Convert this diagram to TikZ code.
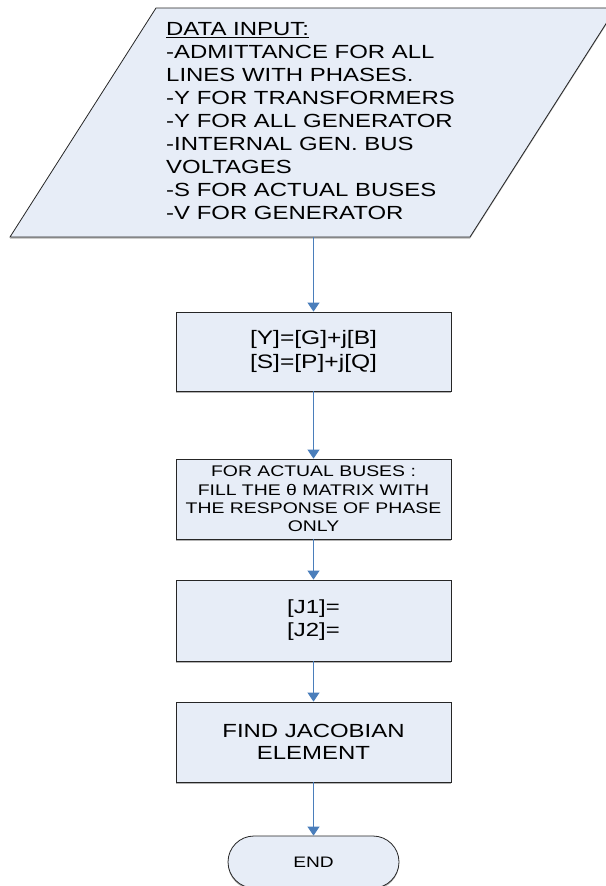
\documentclass[tikz,border=0pt]{standalone}
\usepackage{fontspec}
\usepackage{xcolor}
\usetikzlibrary{positioning, arrows.meta, shadows}
\newfontfamily\flowfont[FakeStretch=1.26]{Liberation Sans}
\definecolor{boxfill}{RGB}{231,237,247}
\definecolor{linkblue}{RGB}{74,126,187}

\begin{document}
\begin{tikzpicture}[x=1pt, y=-1pt,
  every node/.style={font=\flowfont, text=black},
  procbox/.style={draw=black!85, fill=boxfill, line width=0.8pt, minimum width=275pt, inner sep=0pt, align=center,
    drop shadow={shadow xshift=0pt, shadow yshift=-1.6pt, opacity=.6, fill=gray}},
  link/.style={draw=linkblue, line width=0.9pt, -{Triangle[length=9pt, width=12pt]}}]
\useasboundingbox (0,0) rectangle (605,886);

% Input parallelogram (the right corner runs off the page)
\coordinate (inbl) at (10,237);
\coordinate (inbr) at (470,237);
\coordinate (intr) at (616,8);
\coordinate (intl) at (156,8);
\fill[gray, opacity=.6] ([yshift=-1.6pt]inbl) -- ([yshift=-1.6pt]inbr) -- ([yshift=-1.6pt]intr) -- ([yshift=-1.6pt]intl) -- cycle;
\draw[black!85, fill=boxfill, line width=0.8pt] (inbl) -- (inbr) -- (intr) -- (intl) -- cycle;
\node[anchor=north west, align=left, inner sep=0pt, font=\flowfont\fontsize{19}{23}\selectfont] (input) at (166,22)
  {\underline{DATA INPUT:}\\-ADMITTANCE FOR ALL\\LINES WITH PHASES.\\-Y FOR TRANSFORMERS\\-Y FOR ALL GENERATOR\\-INTERNAL GEN. BUS\\VOLTAGES\\-S FOR ACTUAL BUSES\\-V FOR GENERATOR};
\coordinate (inbot) at (313.5,237);

% Process boxes
\node[procbox, minimum height=79pt, font=\flowfont\fontsize{19.5}{24}\selectfont] (ysplit) at (313.5,351.5)
  {[Y]=[G]+j[B]\\{}[S]=[P]+j[Q]};
\node[procbox, minimum height=80pt, font=\flowfont\fontsize{15.4}{18.3}\selectfont] (theta) at (313.5,499)
  {FOR ACTUAL BUSES :\\FILL THE θ MATRIX WITH\\THE RESPONSE OF PHASE\\ONLY};
\node[procbox, minimum height=81pt, font=\flowfont\fontsize{19}{23}\selectfont] (jmat) at (313.5,620.5)
  {[J1]=\\{}[J2]=};
\node[procbox, minimum height=80pt, font=\flowfont\fontsize{19}{22}\selectfont] (jacob) at (313.5,742)
  {FIND JACOBIAN\\ELEMENT};

% Terminal
\node[procbox, minimum width=171pt, minimum height=52pt, rounded corners=26pt, font=\flowfont\fontsize{15.2}{18}\selectfont] (stop) at (313.5,862)
  {END};

% Flow
\draw[link] (inbot) -- (ysplit);
\draw[link] (ysplit) -- (theta);
\draw[link] (theta) -- (jmat);
\draw[link] (jmat) -- (jacob);
\draw[link] (jacob) -- (stop);
\end{tikzpicture}
\end{document}
